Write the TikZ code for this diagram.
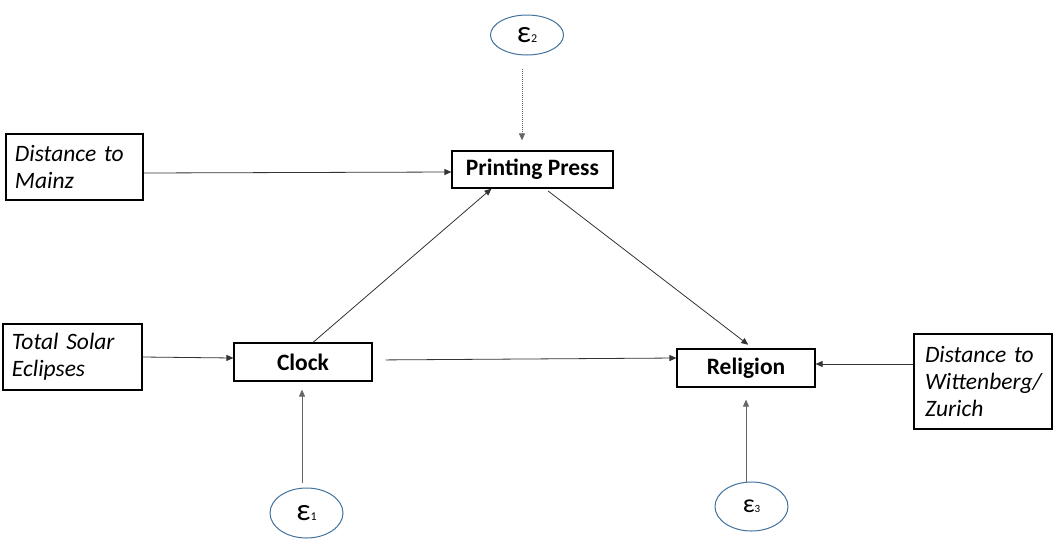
\documentclass[tikz,border=0pt]{standalone}
\usepackage{fontspec}
\setmainfont{Carlito}
\usetikzlibrary{arrows.meta, shapes.geometric}
\definecolor{ovalblue}{RGB}{65,113,156}
\begin{document}
\begin{tikzpicture}[x=1pt, y=-1pt,
        font=\fontsize{23.5}{27}\selectfont,
        var/.style={draw, line width=1.2pt, inner sep=0pt, font=\fontsize{23.5}{27}\selectfont\bfseries},
        instr/.style={draw, line width=1.2pt, inner sep=0pt, align=left, font=\fontsize{23.5}{27}\selectfont\itshape},
        err/.style={draw=ovalblue, line width=1pt, ellipse, minimum width=73pt, inner sep=0pt},
        arr/.style={draw=black!80, line width=0.8pt, -{Triangle[length=7pt, width=6pt]}},
        noise/.style={arr, draw=black!60, dash pattern=on 1.2pt off 0.8pt}]
        \useasboundingbox (0, 0) rectangle (1053, 539);

        % endogenous variables
        \node[var, minimum width=161pt, minimum height=37pt] (press) at (532.5, 169.5) {Printing Press};
        \node[var, minimum width=138pt, minimum height=38pt] (clock) at (303, 362) {Clock};
        \node[var, minimum width=138pt, minimum height=38pt] (religion) at (746, 368) {Religion};

        % instruments
        \node[instr, minimum width=137pt, minimum height=66pt, text width=119pt] (mainz) at (74.5, 167) {Distance to\\Mainz};
        \node[instr, minimum width=139pt, minimum height=66pt, text width=121pt] (eclipse) at (72.5, 357) {Total Solar\\Eclipses};
        \node[instr, minimum width=138pt, minimum height=95pt, text width=116pt] (wittenberg) at (983, 381.5) {Distance to\\Wittenberg/\\Zurich};

        % error terms
        \node[err, minimum height=40pt] (eps2) at (527, 35) {{\fontsize{31}{31}\selectfont ε}{\fontsize{12}{12}\selectfont 2}};
        \node[err, minimum height=50pt] (eps1) at (306.5, 513) {{\fontsize{31}{31}\selectfont ε}{\fontsize{12}{12}\selectfont 1}};
        \node[err, minimum height=49pt] (eps3) at (751.5, 506.5) {{\fontsize{26}{26}\selectfont ε}{\fontsize{11}{11}\selectfont 3}};

        \draw[arr] ([yshift=-6pt]mainz.east) -- ([yshift=-2.5pt]press.west);
        \draw[arr] (eclipse.east) -- ([yshift=4pt]clock.west);
        \draw[arr] ([xshift=10pt]clock.north) -- ([xshift=-41pt]press.south);
        \draw[arr, shorten <=13pt] ([yshift=2pt]clock.east) -- ([yshift=10pt]religion.west);
        \draw[arr, shorten <=4pt, shorten >=6pt] ([xshift=12.5pt]press.south) -- ([xshift=7pt]religion.north);
        \draw[arr] ([yshift=17.5pt]wittenberg.west) -- ([yshift=4pt]religion.east);

        % disturbances
        \draw[noise, shorten <=13pt, shorten >=10pt] ([xshift=-5pt]eps2.south) -- ([xshift=-10.5pt]press.north);
        \draw[noise, shorten <=5pt, shorten >=8pt] ([xshift=-4.5pt]eps1.north) -- ([xshift=-1pt]clock.south);
        \draw[noise, shorten >=12pt] ([xshift=-5.5pt]eps3.north) -- (religion.south);
\end{tikzpicture}
\end{document}
